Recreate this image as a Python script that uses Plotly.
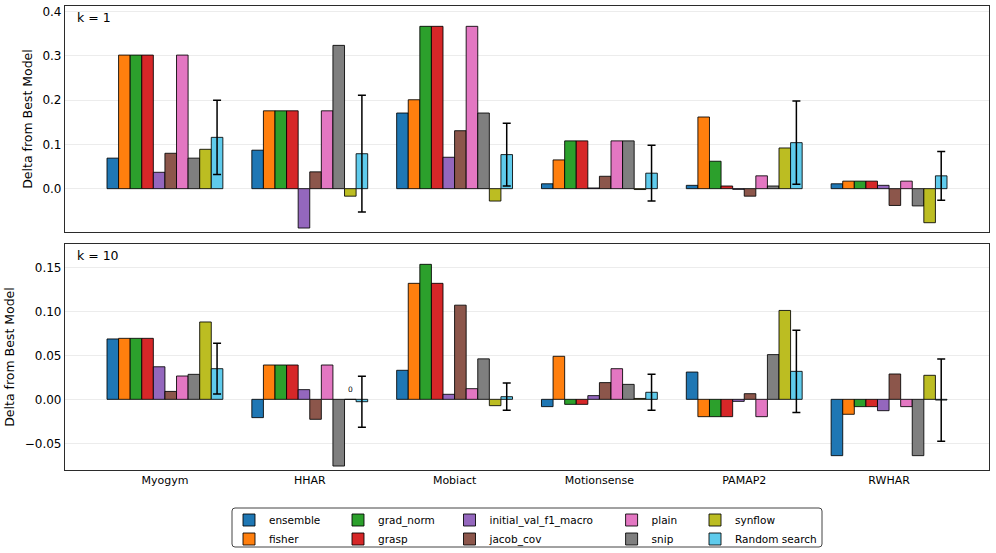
import plotly.graph_objects as go

categories = ["Myogym", "HHAR", "Mobiact", "Motionsense", "PAMAP2", "RWHAR"]
methods = ["ensemble", "fisher", "grad_norm", "grasp", "initial_val_f1_macro",
           "jacob_cov", "plain", "snip", "synflow", "Random search"]
colors = ["#1f77b4", "#ff7f0e", "#2ca02c", "#d62728", "#9467bd",
          "#8c564b", "#e377c2", "#7f7f7f", "#bcbd22", "#5fcbec"]

# k = 1 panel values (per method, per category)
k1 = {
    "ensemble":             [0.069, 0.087, 0.171, 0.011, 0.0075, 0.011],
    "fisher":               [0.302, 0.176, 0.201, 0.065, 0.162, 0.017],
    "grad_norm":            [0.302, 0.176, 0.367, 0.108, 0.062, 0.017],
    "grasp":                [0.302, 0.176, 0.367, 0.108, 0.006, 0.017],
    "initial_val_f1_macro": [0.037, -0.089, 0.071, 0.0015, -0.0015, 0.0075],
    "jacob_cov":            [0.080, 0.038, 0.131, 0.028, -0.017, -0.038],
    "plain":                [0.302, 0.176, 0.367, 0.108, 0.029, 0.017],
    "snip":                 [0.069, 0.324, 0.171, 0.108, 0.006, -0.039],
    "synflow":              [0.089, -0.017, -0.028, -0.002, 0.092, -0.077],
    "Random search":        [0.116, 0.079, 0.077, 0.035, 0.104, 0.029],
}
k1_err = [0.084, 0.132, 0.071, 0.063, 0.094, 0.055]

# k = 10 panel values
k10 = {
    "ensemble":             [0.0686, -0.0208, 0.033, -0.0083, 0.031, -0.064],
    "fisher":               [0.0693, 0.039, 0.1318, 0.0489, -0.0197, -0.017],
    "grad_norm":            [0.0693, 0.039, 0.1534, -0.0057, -0.0197, -0.0083],
    "grasp":                [0.0693, 0.039, 0.1318, -0.0057, -0.0197, -0.0083],
    "initial_val_f1_macro": [0.037, 0.011, 0.0057, 0.0042, -0.0023, -0.0129],
    "jacob_cov":            [0.009, -0.0227, 0.107, 0.019, 0.0064, 0.0288],
    "plain":                [0.0265, 0.039, 0.0121, 0.0348, -0.0197, -0.0083],
    "snip":                 [0.0284, -0.0758, 0.046, 0.017, 0.0508, -0.064],
    "synflow":              [0.0879, 0.0, -0.0072, 0.001, 0.101, 0.0273],
    "Random search":        [0.0348, -0.0027, 0.003, 0.008, 0.0318, -0.0008],
}
k10_err = [0.0288, 0.029, 0.0155, 0.0205, 0.0467, 0.0467]

panel_labels = ["k = 1", "k = 10"]
top_ticks = [0.0, 0.1, 0.2, 0.3, 0.4]
bottom_ticks = [-0.05, 0.0, 0.05, 0.10, 0.15]

legend_of = {
    "ensemble": "legend", "fisher": "legend",
    "grad_norm": "legend2", "grasp": "legend2",
    "initial_val_f1_macro": "legend3", "jacob_cov": "legend3",
    "plain": "legend4", "snip": "legend4",
    "synflow": "legend5", "Random search": "legend5",
}

FONT = "DejaVu Sans"
fig = go.Figure()

annotations = []
for panel, (data, err, xa, ya) in enumerate([(k1, k1_err, "x", "y"), (k10, k10_err, "x2", "y2")]):
    for j, m in enumerate(methods):
        kw = {}
        if m == "Random search":
            kw["error_y"] = dict(type="data", array=err, color="black", thickness=1.5, width=4)
        fig.add_trace(go.Bar(
            x=categories, y=data[m], name=m,
            marker=dict(color=colors[j], line=dict(color="rgba(0,0,0,0.85)", width=1)),
            xaxis=xa, yaxis=ya,
            showlegend=(panel == 0), legend=legend_of[m],
            **kw,
        ))
        for i, v in enumerate(data[m]):
            if v == 0:
                annotations.append(dict(
                    x=i - 0.4 + 0.08 * j + 0.04, y=v, xref=xa, yref=ya,
                    text="0", showarrow=False, yshift=10,
                    font=dict(size=7.5, family=FONT, color="black")))

for k, lbl in enumerate(panel_labels):
    yr = "y" if k == 0 else "y2"
    annotations.append(dict(
        x=0.011, y=0.95, xref="x domain" if k == 0 else "x2 domain",
        yref=yr + " domain", text=lbl, showarrow=False,
        xanchor="left", yanchor="middle",
        font=dict(size=12.5, family=FONT, color="black")))

L, R, T, B = 65, 7, 6, 83
W, H = 996, 553
pw, ph = W - L - R, H - T - B

def px_x(p):
    return (p - L) / pw

def px_y(p):
    return (H - B - p) / ph

axis_common = dict(showline=True, mirror=True, linecolor="#2b2b2b", linewidth=1.2,
                   automargin=False)
xcommon = dict(type="category", range=[-0.69, 5.69], ticks="", **axis_common)
ycommon = dict(showgrid=True, gridcolor="#ececec", gridwidth=1, zeroline=False,
               ticks="", tickfont=dict(size=12, family=FONT, color="black"),
               title=dict(text="Delta from Best Model", standoff=7,
                          font=dict(size=12.5, family=FONT, color="black")),
               **axis_common)

top_dom = [px_y(232), 1.0]
bot_dom = [0.0, px_y(244)]

legend_items_x = [229, 338, 449.5, 611.6, 695]
leg_kwargs = {}
for idx, lx in enumerate(legend_items_x):
    key = "legend" if idx == 0 else f"legend{idx + 1}"
    leg_kwargs[key] = dict(
        x=px_x(lx), y=px_y(505.5), xanchor="left", yanchor="top",
        orientation="v", bgcolor="rgba(0,0,0,0)", borderwidth=0,
        font=dict(size=10.5, family=FONT, color="black"),
        tracegroupgap=0, itemclick=False, itemdoubleclick=False)

# legend frame (rounded rectangle)
x0, x1 = px_x(232), px_x(822)
y0, y1 = px_y(547), px_y(508)
rx, ry = 3 / pw, 3 / ph
path = (f"M {x0+rx},{y0} L {x1-rx},{y0} Q {x1},{y0} {x1},{y0+ry} "
        f"L {x1},{y1-ry} Q {x1},{y1} {x1-rx},{y1} L {x0+rx},{y1} "
        f"Q {x0},{y1} {x0},{y1-ry} L {x0},{y0+ry} Q {x0},{y0} {x0+rx},{y0} Z")

fig.update_layout(
    width=W, height=H,
    margin=dict(l=L, r=R, t=T, b=B, autoexpand=False),
    paper_bgcolor="white", plot_bgcolor="white",
    font=dict(family=FONT, color="black"),
    barmode="group", bargap=0.2, bargroupgap=0,
    xaxis=dict(domain=[0, 1], anchor="y", showticklabels=False, **xcommon),
    xaxis2=dict(domain=[0, 1], anchor="y2", showticklabels=True,
                tickfont=dict(size=11, family=FONT, color="black"), **xcommon),
    yaxis=dict(domain=top_dom, anchor="x", range=[-0.098, 0.413],
               tickvals=top_ticks, tickformat=".1f", **ycommon),
    yaxis2=dict(domain=bot_dom, anchor="x2", range=[-0.0803, 0.1765],
                tickvals=bottom_ticks, tickformat=".2f", **ycommon),
    annotations=annotations,
    shapes=[dict(type="path", path=path, xref="paper", yref="paper",
                 line=dict(color="#444444", width=1), fillcolor="rgba(0,0,0,0)")],
    **leg_kwargs,
)

fig.write_html("out.html", config={"displayModeBar": False},
               post_script="document.body.style.margin='0';document.body.style.overflow='hidden';")
